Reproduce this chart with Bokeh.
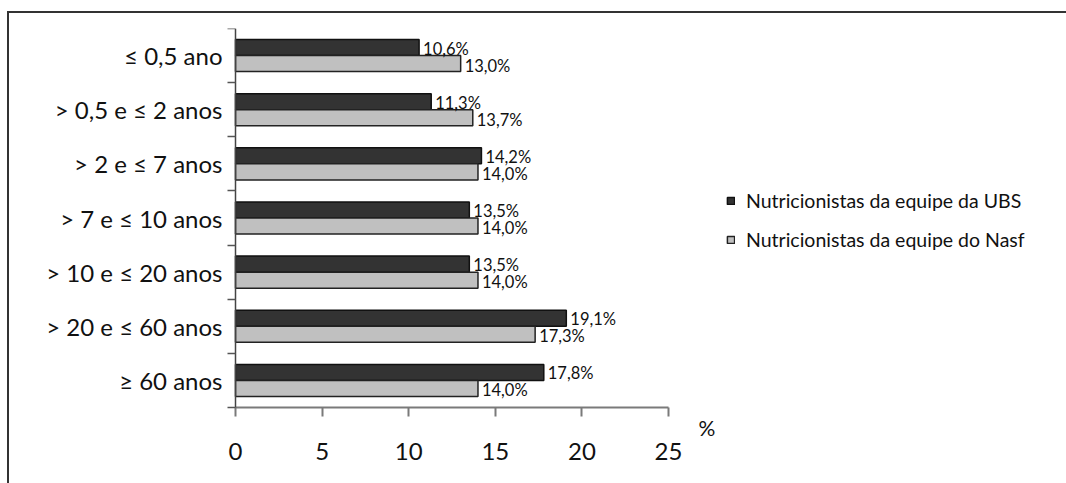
from bokeh.plotting import figure
from bokeh.models import (Range1d, FixedTicker, ColumnDataSource, Legend, LegendItem, Label)
from bokeh.core.properties import value
from bokeh.transform import dodge
from bokeh.embed import file_html
from bokeh.resources import INLINE

categories = ["≤ 0,5 ano", "> 0,5 e ≤ 2 anos", "> 2 e ≤ 7 anos", "> 7 e ≤ 10 anos",
              "> 10 e ≤ 20 anos", "> 20 e ≤ 60 anos", "≥ 60 anos"]
ubs = [10.6, 11.3, 14.2, 13.5, 13.5, 19.1, 17.8]
nasf = [13.0, 13.7, 14.0, 14.0, 14.0, 17.3, 14.0]
series_names = ["Nutricionistas da equipe da UBS", "Nutricionistas da equipe do Nasf"]
x_ticks = [0, 5, 10, 15, 20, 25]

FONT = "Lato"
n = len(categories)
ypos = [n - i for i in range(n)]

def fmt(v):
    return f"{v:.1f}".replace(".", ",") + "%"

src = ColumnDataSource(dict(
    y=ypos, ubs=ubs, nasf=nasf,
    ubs_lbl=[fmt(v) for v in ubs], nasf_lbl=[fmt(v) for v in nasf],
))

W, H = 1066, 483
left_px, right25_px, top_px, axis_px = 235, 668, 28, 407
unit_x = (right25_px - left_px) / 25
x_start = -left_px / unit_x
x_end = (W - left_px) / unit_x
unit_y = (axis_px - top_px) / n
y_start = (n + 0.5) - (H - top_px) / unit_y

p = figure(width=W, height=H, output_backend="svg", toolbar_location=None,
           x_range=Range1d(x_start, x_end), y_range=Range1d(y_start, n + 0.5),
           min_border_left=0, min_border_right=0, min_border_top=top_px, min_border_bottom=0)
p.border_fill_color = None
p.background_fill_color = None
p.outline_line_color = None
p.xgrid.visible = False
p.ygrid.visible = False
p.styles = {
    "background": "linear-gradient(#333,#333) 7px 11px / 2px 100% no-repeat, "
                  "linear-gradient(#333,#333) 7px 11px / 100% 2px no-repeat, white"
}

bh = 0.296
r1 = p.hbar(y=dodge("y", bh / 2), right="ubs", left=0, height=bh, source=src,
            fill_color="#333333", line_color="#111111", line_width=1.5)
r2 = p.hbar(y=dodge("y", -bh / 2), right="nasf", left=0, height=bh, source=src,
            fill_color="#c0c0c0", line_color="#222222", line_width=1.5)

p.text(x="ubs", y=dodge("y", bh / 2), text="ubs_lbl", source=src, x_offset=4, y_offset=1,
       text_baseline="middle", text_align="left", text_font=value(FONT),
       text_font_size="16.5px", text_color="#111111")
p.text(x="nasf", y=dodge("y", -bh / 2), text="nasf_lbl", source=src, x_offset=4, y_offset=2,
       text_baseline="middle", text_align="left", text_font=value(FONT),
       text_font_size="16.5px", text_color="#111111")

# x axis, drawn at the bottom of the category block
xa = p.xaxis[0]
xa.fixed_location = 0.5
xa.bounds = (0, 25)
xa.ticker = FixedTicker(ticks=x_ticks)
xa.axis_line_color = "#7a7a7a"
xa.axis_line_width = 2
xa.major_tick_line_color = "#7a7a7a"
xa.major_tick_line_width = 2
xa.major_tick_out = 9
xa.major_tick_in = 0
xa.minor_tick_line_color = None
xa.major_label_text_font = FONT
xa.major_label_text_font_size = "24px"
xa.major_label_text_color = "#111111"
xa.major_label_text_align = "right"
xa.major_label_standoff = 26

# y axis at x = 0: labels at centers, tick marks between categories
ya = p.yaxis[0]
ya.fixed_location = 0
ya.bounds = (0.5, n + 0.5)
ya.ticker = FixedTicker(ticks=ypos, minor_ticks=[k + 0.5 for k in range(n + 1)])
ya.major_label_overrides = {y: c for y, c in zip(ypos, categories)}
ya.axis_line_color = "#444444"
ya.axis_line_width = 1.5
ya.major_tick_line_color = None
ya.major_tick_out = 0
ya.major_tick_in = 0
ya.minor_tick_line_color = "#555555"
ya.minor_tick_line_width = 1.5
ya.minor_tick_out = 8
ya.minor_tick_in = 0
ya.major_label_text_font = FONT
ya.major_label_text_font_size = "24px"
ya.major_label_text_color = "#111111"
ya.major_label_standoff = 5

legend = Legend(items=[LegendItem(label=series_names[0], renderers=[r1]),
                       LegendItem(label=series_names[1], renderers=[r2])],
                location=(726, 232), orientation="vertical")
legend.glyph_width = 9
legend.glyph_height = 9
legend.label_height = 20
legend.spacing = 16
legend.padding = 0
legend.margin = 0
legend.label_standoff = 11
legend.border_line_color = None
legend.background_fill_color = None
legend.label_text_font = FONT
legend.label_text_font_size = "19.5px"
legend.label_text_color = "#111111"
p.add_layout(legend, "center")

p.add_layout(Label(x=25, y=0.5, x_offset=30, y_offset=-20, text="%",
                   text_font=FONT, text_font_size="21px", text_color="#111111",
                   text_align="left", text_baseline="middle"))

open("out.html", "w").write(file_html(p, INLINE))
